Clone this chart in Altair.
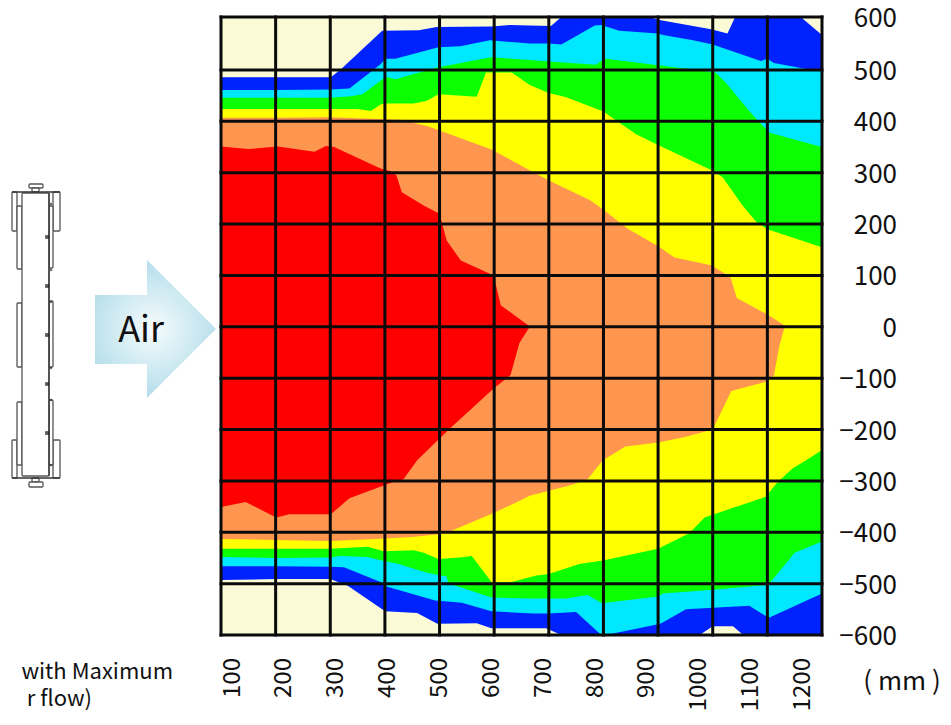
import altair as alt
import pandas as pd

FONT = "Noto Sans CJK JP"

# contour boundaries in (mm, mm): each band = upper edge and lower edge, painted outer to inner
blue_top_x = [100,200,301,319,395,462,495,595,629,665,704,723,885,900,997,1027,1041,1161,1200]
blue_top_y = [486,486,486,501,574,575,581,582,585,584,583,600,600,595,577,569,600,600,566]
blue_bot_x = [100,200,300,332,395,401,459,496,568,595,671,695,723,976,1000,1037,1056,1200]
blue_bot_y = [-493,-491,-491,-504,-550,-554,-557,-578,-577,-587,-587,-587,-600,-600,-583,-583,-600,-600]

cyan_top_x = [100,200,300,335,392,401,419,498,538,592,665,698,723,784,796,829,900,909,964,1000,1088,1100,1112,1176,1200]
cyan_top_y = [461,461,462,464,511,521,521,543,545,556,550,550,548,584,585,574,569,566,556,548,517,521,513,501,501]
cyan_bot_x = [100,200,300,325,392,398,492,541,595,671,700,750,796,804,900,906,951,1067,1097,1104,1200]
cyan_bot_y = [-466,-466,-467,-468,-497,-504,-533,-537,-554,-558,-558,-555,-600,-600,-579,-577,-550,-543,-563,-566,-519]

green_top_x = [100,200,300,338,359,392,401,419,453,498,595,665,700,786,796,804,900,963,1005,1024,1066,1097,1104,1200]
green_top_y = [446,446,446,449,453,479,487,482,492,505,524,519,516,510,517,521,509,501,495,475,421,385,378,350]
green_bot_x = [100,200,300,319,368,398,425,477,513,516,544,595,671,732,771,796,804,900,909,1000,1097,1106,1150,1200]
green_bot_y = [-448,-450,-449,-446,-448,-456,-462,-479,-486,-500,-509,-527,-529,-529,-522,-537,-537,-525,-519,-512,-503,-497,-440,-418]

yellow_top_x = [100,200,300,350,374,392,398,453,477,498,568,585,632,665,700,732,800,824,860,900,1000,1018,1054,1079,1100,1200]
yellow_top_y = [424,424,424,424,420,433,435,435,440,453,448,495,495,471,455,447,419,401,375,354,304,291,237,205,190,155]
yellow_bot_x = [100,200,300,368,398,453,471,498,537,559,595,632,677,700,756,799,900,957,985,1097,1119,1146,1171,1200]
yellow_bot_y = [-432,-432,-432,-428,-437,-435,-440,-452,-449,-446,-497,-497,-484,-481,-462,-455,-432,-402,-371,-331,-302,-276,-260,-240]

orange_top_x = [100,200,300,400,430,480,595,665,700,775,800,843,900,930,997,1025,1033,1044,1100,1131,1132]
orange_top_y = [407,407,408,404,403,390,345,305,285,247,228,192,157,135,120,102,95,56,24,3,0]
orange_bot_x = [100,200,300,400,450,498,522,600,646,665,700,741,771,799,840,900,947,1000,1034,1097,1112,1122,1131,1132]
orange_bot_y = [-413,-415,-417,-412,-409,-404,-397,-362,-339,-329,-319,-308,-297,-260,-233,-225,-215,-200,-125,-107,-95,-37,-2,0]

red_top_x = [100,150,204,271,292,307,392,410,421,431,471,500,513,539,599,612,662,665]
red_top_y = [351,346,351,341,352,350,308,303,295,262,236,220,168,129,100,42,3,0]
red_bot_x = [100,145,201,225,298,301,335,410,434,459,517,599,630,646,665]
red_bot_y = [-351,-341,-371,-365,-365,-365,-334,-304,-297,-260,-200,-120,-94,-32,0]

bands = [
    ("#0022FF", blue_top_x, blue_top_y, blue_bot_x, blue_bot_y),
    ("#00E8FF", cyan_top_x, cyan_top_y, cyan_bot_x, cyan_bot_y),
    ("#0CFF00", green_top_x, green_top_y, green_bot_x, green_bot_y),
    ("#FFFF00", yellow_top_x, yellow_top_y, yellow_bot_x, yellow_bot_y),
    ("#FF9650", orange_top_x, orange_top_y, orange_bot_x, orange_bot_y),
    ("#FF0000", red_top_x, red_top_y, red_bot_x, red_bot_y),
]

grid_x = [100,200,300,400,500,600,700,800,900,1000,1100,1200]
grid_y = [600,500,400,300,200,100,0,-100,-200,-300,-400,-500,-600]
y_labels = ["600","500","400","300","200","100","0","−100","−200","−300","−400","−500","−600"]
x_labels = [str(v) for v in grid_x]

# page-pixel layout of the side artwork
arrow_x = [95,147,147,216]
arrow_top = [295,295,260,329]
arrow_bot = [364,364,398,329]
dev_x0 = [29,32,12,53,12,53,17,17,17,49,49,49,32,29,22]
dev_x1 = [43,39,17,60,17,60,22,22,22,53,53,53,39,43,49]
dev_y0 = [184,188,192,192,440,440,206,303,402,206,301,400,478,482,193]
dev_y1 = [188,192,231,231,478,478,269,367,465,268,367,465,482,487,476]
dot_y = [237,286,335,384,433]
nick_y = [204,270,302,368,400,465]

W, H = 935, 704
xs = alt.Scale(domain=[100,1200], range=[213,814], nice=False, zero=False)
ys = alt.Scale(domain=[-600,500,600], range=[627,62,9], nice=False, zero=False)
xl = alt.Scale(domain=[100,1200], range=[224.5,795], nice=False, zero=False)
px = alt.Scale(domain=[0,951], range=[-8,943], nice=False, zero=False)
py = alt.Scale(domain=[0,725], range=[-8,717], nice=False, zero=False)

def X(f, s=xs): return alt.X(f, type="quantitative", scale=s, axis=None)
def Y(f, s=ys): return alt.Y(f, type="quantitative", scale=s, axis=None)

layers = []
layers.append(
    alt.Chart(pd.DataFrame({"x":[100,1200],"y":[600,600],"y0":[-600,-600]}))
    .mark_area(color="#FAFAD6").encode(x=X("x"), y=Y("y"), y2="y0")
)
for color, tx, ty, bx, by in bands:
    for ax, ay in ((tx, ty), (bx, by)):
        df = pd.DataFrame({"x":ax, "y":ay, "y0":[0]*len(ax)})
        layers.append(alt.Chart(df).mark_area(color=color).encode(x=X("x"), y=Y("y"), y2="y0"))

rule = dict(color="#0a0a0a", strokeWidth=3, strokeCap="square")
layers.append(alt.Chart(pd.DataFrame({"x":grid_x,"a":[-600]*12,"b":[600]*12}))
              .mark_rule(**rule).encode(x=X("x"), y=Y("a"), y2="b"))
layers.append(alt.Chart(pd.DataFrame({"y":grid_y,"a":[100]*13,"b":[1200]*13}))
              .mark_rule(**rule).encode(y=Y("y"), x=X("a"), x2="b"))

layers.append(alt.Chart(pd.DataFrame({"y":grid_y,"t":y_labels,"x":[897]*13}))
              .mark_text(font=FONT, fontSize=26, align="right", baseline="middle", color="#111", dy=2)
              .encode(x=X("x", px), y=Y("y"), text="t:N"))
layers.append(alt.Chart(pd.DataFrame({"x":grid_x,"t":x_labels,"y":[658]*12}))
              .mark_text(font=FONT, fontSize=24, align="right", baseline="middle", angle=270, color="#111")
              .encode(x=X("x", xl), y=Y("y", py), text="t:N"))

notes = pd.DataFrame({"t":["with Maximum","r flow)"],"x":[173,92],"y":[672,699]})
layers.append(alt.Chart(notes).mark_text(font=FONT, fontSize=22, align="right", baseline="middle", color="#111")
              .encode(x=X("x", px), y=Y("y", py), text="t:N"))
layers.append(alt.Chart(pd.DataFrame({"t":["( mm )"],"x":[902],"y":[682]}))
              .mark_text(font=FONT, fontSize=26, align="center", baseline="middle", color="#111")
              .encode(x=X("x", px), y=Y("y", py), text="t:N"))

# arrow
grad = alt.RadialGradient(gradient="radial", x1=0.48, y1=0.5, x2=0.48, y2=0.5, r1=0, r2=0.62,
                          stops=[alt.GradientStop(offset=0, color="#F6FCFD"),
                                 alt.GradientStop(offset=1, color="#A4D6E6")])
layers.append(alt.Chart(pd.DataFrame({"x":arrow_x,"y":arrow_top,"y0":arrow_bot}))
              .mark_area(color=grad).encode(x=X("x", px), y=Y("y", py), y2="y0"))
layers.append(alt.Chart(pd.DataFrame({"t":["Air"],"x":[141],"y":[331]}))
              .mark_text(font=FONT, fontSize=36, align="center", baseline="middle", color="#111")
              .encode(x=X("x", px), y=Y("y", py), text="t:N"))

# device outline
layers.append(alt.Chart(pd.DataFrame({"x":dev_x0,"x1":dev_x1,"y":dev_y0,"y1":dev_y1}))
              .mark_rect(fill="white", stroke="#555", strokeWidth=1.3, cornerRadius=1)
              .encode(x=X("x", px), x2="x1", y=Y("y", py), y2="y1"))
layers.append(alt.Chart(pd.DataFrame({"x":[12,12,49],"x1":[60,60,49],"y":[192,478,193],"y1":[192,478,476]}))
              .mark_rule(color="#333", strokeWidth=1.3)
              .encode(x=X("x", px), x2="x1", y=Y("y", py), y2="y1"))
layers.append(alt.Chart(pd.DataFrame({"x":[47]*5,"y":dot_y}))
              .mark_point(shape="square", filled=True, color="#111", size=14)
              .encode(x=X("x", px), y=Y("y", py)))
layers.append(alt.Chart(pd.DataFrame({"x":[51]*6,"y":nick_y}))
              .mark_point(shape="square", filled=True, color="#333", size=5)
              .encode(x=X("x", px), y=Y("y", py)))

chart = (alt.layer(*layers)
         .resolve_scale(x="independent", y="independent")
         .properties(width=W, height=H, padding=0,
                     autosize=alt.AutoSizeParams(type="none"),
                     background="white")
         .configure_view(stroke=None))
chart.save("out.html", embed_options={"renderer": "svg", "actions": False})
